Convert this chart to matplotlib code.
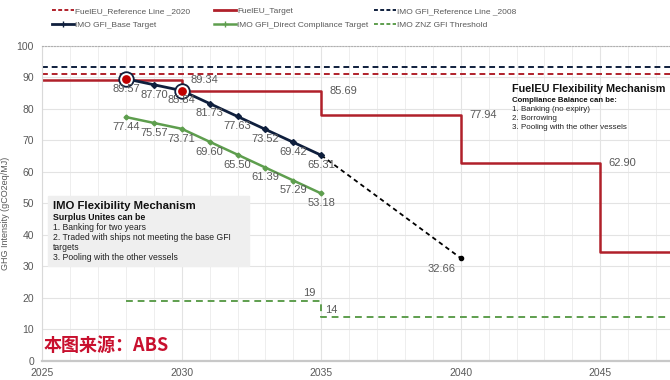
import matplotlib.pyplot as plt
from matplotlib.lines import Line2D
from matplotlib.patches import Rectangle

# ---- data ----
fueleu_years = [2025, 2030, 2035, 2040, 2045, 2050]
fueleu_target = [89.34, 85.69, 77.94, 62.90, 34.64, 34.64]
fueleu_ref_2020 = 91.16
imo_ref_2008 = 93.3

imo_years = [2028, 2029, 2030, 2031, 2032, 2033, 2034, 2035]
imo_base = [89.57, 87.70, 85.84, 81.73, 77.63, 73.52, 69.42, 65.31]
imo_direct = [77.44, 75.57, 73.71, 69.60, 65.50, 61.39, 57.29, 53.18]
imo_highlight = [2028, 2030]

proj_years = [2035, 2040]
proj_values = [65.31, 32.66]

znz_years = [2028, 2035, 2050]
znz_values = [19, 14, 14]

GRAY = '#595959'
RED = '#B0202A'
NAVY = '#0F1F3D'
GREEN = '#5E9E4E'

plt.rcParams['font.family'] = ['Liberation Sans', 'DejaVu Sans']

fig = plt.figure(figsize=(6.7, 3.8), dpi=100)
ax = fig.add_axes([0.063, 0.05, 0.937, 0.829])

# grid
ax.set_xlim(2025, 2047.5)
ax.set_ylim(0, 100)
ax.set_xticks(range(2025, 2048, 5))
ax.set_xticks(range(2025, 2048), minor=True)
ax.set_yticks(range(0, 101, 10))
ax.grid(which='major', color='#E3E3E3', lw=0.8)
ax.grid(which='minor', axis='x', color='#EEEEEE', lw=0.7)
ax.set_axisbelow(True)
ax.tick_params(which='both', length=0, colors=GRAY, labelsize=7.5)
ax.tick_params(axis='x', pad=5)
ax.tick_params(axis='y', pad=6)
ax.spines['right'].set_visible(False)
ax.spines['top'].set_linestyle(':')
ax.spines['top'].set_color('#B0B0B0')
ax.spines['left'].set_color('#D9D9D9')
ax.spines['left'].set_linewidth(0.8)
ax.spines['bottom'].set_color('#C8C8C8')
ax.spines['bottom'].set_linewidth(1.6)
ax.set_ylabel('GHG Intensity (gCO2eq/MJ)', fontsize=6.5, color=GRAY)
ax.yaxis.set_label_coords(-0.051, 0.47)

# reference lines
ax.axhline(imo_ref_2008, color=NAVY, ls=(0, (3, 2)), lw=1.4)
ax.axhline(fueleu_ref_2020, color=RED, ls=(0, (3, 2)), lw=1.4)

# FuelEU target steps
ax.step(fueleu_years, fueleu_target, where='post', color=RED, lw=1.8)
for i in range(len(fueleu_years) - 2):
    ax.annotate(f'{fueleu_target[i]:.2f}', (fueleu_years[i + 1], fueleu_target[i]),
                xytext=(6, 0), textcoords='offset points', ha='left', va='center',
                fontsize=8, color=GRAY)

# IMO base target
ax.plot(proj_years, proj_values, color='black', ls=(0, (2.5, 2)), lw=1.3)
ax.plot(proj_years[-1:], proj_values[-1:], 'o', color='black', ms=3)
ax.annotate(f'{proj_values[-1]:.2f}', (proj_years[-1], proj_values[-1]),
            xytext=(-4, -4), textcoords='offset points', ha='right', va='top',
            fontsize=8, color=GRAY)
ax.plot(imo_years, imo_base, color=NAVY, lw=2, marker='D', ms=3)
ax.plot(imo_years, imo_direct, color=GREEN, lw=1.8, marker='D', ms=2.5)
hx = [imo_years.index(y) for y in imo_highlight]
ax.scatter([imo_years[i] for i in hx], [imo_base[i] for i in hx], s=110,
           facecolor='white', edgecolor=NAVY, lw=1.3, zorder=5)
ax.scatter([imo_years[i] for i in hx], [imo_base[i] for i in hx], s=28,
           color='#C00000', zorder=6)

for x, yb, yd in zip(imo_years, imo_base, imo_direct):
    ax.annotate(f'{yb:.2f}', (x, yb), xytext=(0, -3.5), textcoords='offset points',
                ha='center', va='top', fontsize=8, color=GRAY, zorder=7)
    ax.annotate(f'{yd:.2f}', (x, yd), xytext=(0, -3.5), textcoords='offset points',
                ha='center', va='top', fontsize=8, color=GRAY)

# ZNZ threshold
ax.step(znz_years, znz_values, where='post', color=GREEN, ls=(0, (3.5, 2.5)), lw=1.4)
ax.annotate(f'{znz_values[0]}', (znz_years[1], znz_values[0]), xytext=(-4, 2),
            textcoords='offset points', ha='right', va='bottom', fontsize=8, color=GRAY)
ax.annotate(f'{znz_values[1]}', (znz_years[1], znz_values[1]), xytext=(3, 1.5),
            textcoords='offset points', ha='left', va='bottom', fontsize=8, color=GRAY)

# IMO flexibility box
ax.add_patch(Rectangle((2025.2, 30.2), 7.2, 22.3, color='#EFEFEF', zorder=1))
ax.text(2025.38, 49.2, 'IMO Flexibility Mechanism', fontsize=8.2, fontweight='bold',
        va='center', color='#111111')
ax.text(2025.38, 45.5, 'Surplus Unites can be', fontsize=6.3, fontweight='bold',
        va='center', color='#111111')
imo_lines = ['1. Banking for two years',
             '2. Traded with ships not meeting the base GFI',
             'targets',
             '3. Pooling with the other vessels']
for k, t in enumerate(imo_lines):
    ax.text(2025.38, 42.3 - 3.17 * k, t, fontsize=6.2, va='center', color='#222222')

# FuelEU flexibility text
ax.text(2041.85, 86.3, 'FuelEU Flexibility Mechanism', fontsize=7.8, fontweight='bold',
        va='center', color='#111111')
ax.text(2041.85, 82.6, 'Compliance Balance can be:', fontsize=5.6, fontweight='bold',
        va='center', color='#111111')
eu_lines = ['1. Banking (no expiry)', '2. Borrowing', '3. Pooling with the other vessels']
for k, t in enumerate(eu_lines):
    ax.text(2041.85, 79.9 - 2.85 * k, t, fontsize=5.8, va='center', color='#222222')

# source
ax.text(2025.05, 5, '本图来源：ABS', fontsize=13, fontweight='bold', color='#C8102E',
        va='center', family=['Noto Sans CJK SC', 'DejaVu Sans'])

# legend, one column each so the columns land where the reference has them
dash = (0, (2, 1.2))
legend_cols = [
    (52, [(Line2D([], [], color=RED, ls=dash, lw=1.4), 'FuelEU_Reference Line _2020'),
          (Line2D([], [], color=NAVY, lw=2, marker='+', ms=5), 'IMO GFI_Base Target')]),
    (214, [(Line2D([], [], color=RED, lw=2), 'FuelEU_Target'),
           (Line2D([], [], color=GREEN, lw=1.8, marker='+', ms=4),
            'IMO GFI_Direct Compliance Target')]),
    (374, [(Line2D([], [], color=NAVY, ls=dash, lw=1.4), 'IMO GFI_Reference Line _2008'),
           (Line2D([], [], color=GREEN, ls=dash, lw=1.4), 'IMO ZNZ GFI Threshold')]),
]
for px, items in legend_cols:
    fig.legend([h for h, _ in items], [l for _, l in items], loc='upper left',
               bbox_to_anchor=(px / 670, 1 - 7 / 380), frameon=False,
               handlelength=2.6, handletextpad=0.2, labelspacing=0.75,
               borderpad=0, borderaxespad=0, labelcolor=GRAY, fontsize=6)

fig.savefig('out.png', dpi=100)
